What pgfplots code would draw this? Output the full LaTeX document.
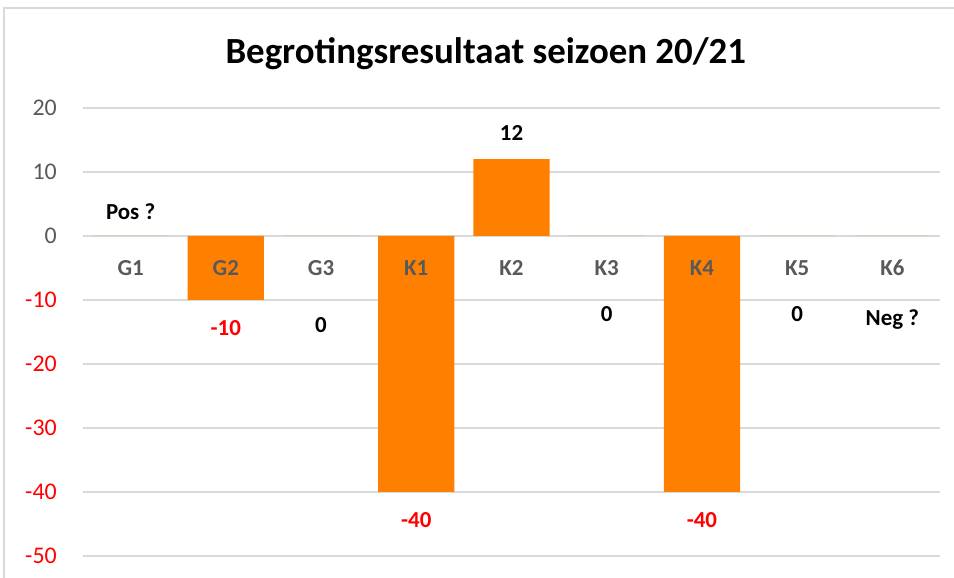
\documentclass[border=0pt]{standalone}
\usepackage{pgfplots}
\pgfplotsset{compat=1.18}
\usepackage{fontspec}
\setmainfont{Carlito}
\definecolor{barorange}{HTML}{FF8000}
\definecolor{tickgray}{HTML}{595959}
\definecolor{gridgray}{HTML}{D9D9D9}
\definecolor{labred}{HTML}{FF0000}
\begin{document}
\begin{tikzpicture}
\begin{axis}[
  set layers=standard,
  at={(0,0)}, anchor=south west,
  scale only axis, width=857bp, height=448bp,
  xmin=-0.5, xmax=8.5, ymin=-50, ymax=20,
  axis line style={draw=none},
  major tick length=0pt,
  ytick={-50,-40,-30,-20,-10,0,10,20},
  yticklabels={\textcolor{labred}{-50},\textcolor{labred}{-40},\textcolor{labred}{-30},\textcolor{labred}{-20},\textcolor{labred}{-10},0,10,20},
  xtick={0,1,2,3,4,5,6,7,8},
  xticklabels={G1,G2,G3,K1,K2,K3,K4,K5,K6},
  ymajorgrids, grid style={gridgray, line width=2bp},
  yticklabel style={font=\fontsize{24}{28}\selectfont, text=tickgray, anchor=east, inner sep=0pt, xshift=-26bp},
  xticklabel style={font=\fontsize{23}{27}\selectfont\bfseries, text=tickgray, anchor=center, inner sep=0pt, yshift=288bp, /pgfplots/on layer=axis descriptions},
  title={Begrotingsresultaat seizoen 20/21},
  title style={font=\fontsize{37}{42}\selectfont\bfseries, at={(axis description cs:0.47,1.108)}, anchor=center},
  clip=false,
]
\addplot[ybar, bar width=0.8, fill=barorange, draw=none]
  coordinates {(0,0) (1,-10) (2,0) (3,-40) (4,12) (5,0) (6,-40) (7,0) (8,0)};
\addplot[draw=none, nodes near coords, point meta=explicit symbolic,
  nodes near coords style={anchor=center, font=\fontsize{23}{27}\selectfont\bfseries, text=black}]
  coordinates {(0,3.75) [Pos ?] (2,-13.9) [0] (4,16.1) [12] (5,-12.2) [0] (7,-12.2) [0] (8,-13.1) [Neg ?]};
\addplot[draw=none, nodes near coords, point meta=explicit symbolic,
  nodes near coords style={anchor=center, font=\fontsize{23}{27}\selectfont\bfseries, text=labred}]
  coordinates {(1,-14.4) [-10] (3,-44.4) [-40] (6,-44.4) [-40]};
\end{axis}
\draw[gridgray, line width=2bp] (-79bp,-22bp) -- (-79bp,548bp) -- (871bp,548bp);
\pgfresetboundingbox
\path[use as bounding box] (-83bp,-22bp) rectangle (871bp,556bp);
\end{tikzpicture}
\end{document}
